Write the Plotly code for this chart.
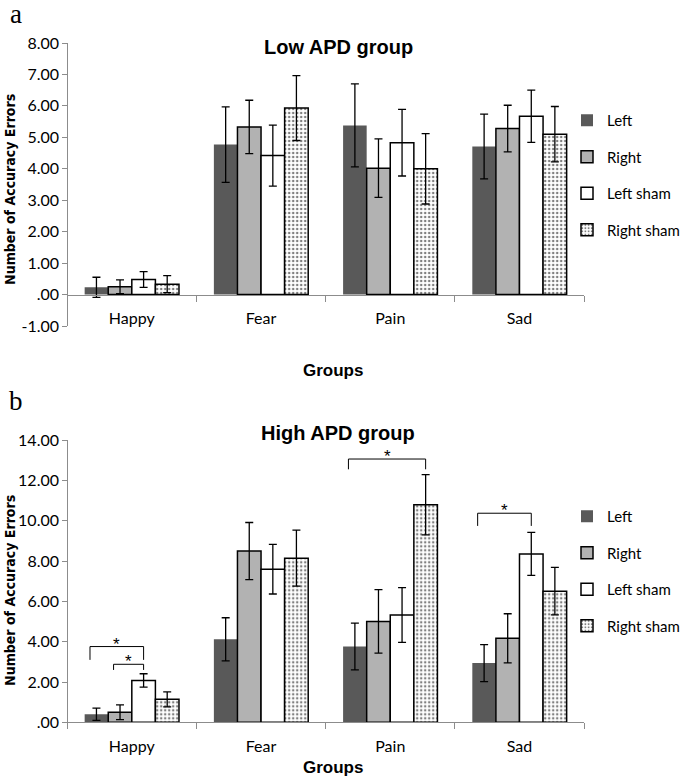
import plotly.graph_objects as go

groups = ['Happy', 'Fear', 'Pain', 'Sad']
conditions = ['Left', 'Right', 'Left sham', 'Right sham']

# panel a - low APD group
low_left = [0.23, 4.77, 5.38, 4.71]
low_left_err = [0.32, 1.20, 1.32, 1.03]
low_right = [0.25, 5.33, 4.02, 5.28]
low_right_err = [0.22, 0.85, 0.93, 0.74]
low_lsham = [0.48, 4.42, 4.83, 5.67]
low_lsham_err = [0.25, 0.97, 1.06, 0.83]
low_rsham = [0.33, 5.93, 4.00, 5.10]
low_rsham_err = [0.27, 1.03, 1.12, 0.88]

# panel b - high APD group
high_left = [0.40, 4.12, 3.76, 2.94]
high_left_err = [0.30, 1.07, 1.16, 0.92]
high_right = [0.50, 8.50, 5.01, 4.17]
high_right_err = [0.37, 1.42, 1.58, 1.22]
high_lsham = [2.08, 7.60, 5.33, 8.36]
high_lsham_err = [0.33, 1.23, 1.36, 1.07]
high_rsham = [1.14, 8.15, 10.80, 6.51]
high_rsham_err = [0.37, 1.39, 1.50, 1.18]

yticks_low = [-1, 0, 1, 2, 3, 4, 5, 6, 7, 8]
yticklabels_low = ['-1.00', '.00', '1.00', '2.00', '3.00', '4.00', '5.00', '6.00', '7.00', '8.00']
yticks_high = [0, 2, 4, 6, 8, 10, 12, 14]
yticklabels_high = ['.00', '2.00', '4.00', '6.00', '8.00', '10.00', '12.00', '14.00']

# significance brackets: group, from bar, to bar, line height, leg bottom
brackets_high = [('Happy', 0, 2, 3.76, 3.10),
                 ('Happy', 1, 2, 2.88, 2.60),
                 ('Pain', 0, 3, 13.07, 12.56),
                 ('Sad', 0, 2, 10.38, 9.75)]

W, H = 685, 776
def px(x):
	return x / W
def py(y):
	return 1 - y / H

colors = ['#595959', '#b2b2b2', 'white', 'white']
line_w = [0, 1.5, 1.5, 1.5]
BARGAP = 0.27

fig = go.Figure()

def add_panel(series, errs, xa, ya, leg):
	for k in range(4):
		marker = dict(color=colors[k], line=dict(color='black', width=line_w[k]))
		if k == 3:
			marker['pattern'] = dict(shape='.', size=4, solidity=0.3, fgcolor='black', bgcolor='white')
		fig.add_trace(go.Bar(
			x=groups, y=series[k], name=conditions[k],
			error_y=dict(type='data', array=errs[k], color='black', thickness=1.3, width=4),
			marker=marker, xaxis=xa, yaxis=ya, legend=leg,
			legendgroup=leg + str(k),
		))

add_panel([low_left, low_right, low_lsham, low_rsham],
          [low_left_err, low_right_err, low_lsham_err, low_rsham_err], 'x', 'y', 'legend')
add_panel([high_left, high_right, high_lsham, high_rsham],
          [high_left_err, high_right_err, high_lsham_err, high_rsham_err], 'x2', 'y2', 'legend2')

xdom = [px(68), px(591)]
ya_dom = [py(326), py(43)]
yb_dom = [py(722.3), py(440.3)]
zero_a = ya_dom[0] + (ya_dom[1] - ya_dom[0]) / 9.0

tickfont = dict(family='Lato, Arial', size=16, color='black')

def xaxis(pos):
	return dict(domain=xdom, anchor='free', position=pos, type='category',
		categoryorder='array', categoryarray=groups, range=[-0.5, 3.5],
		showline=True, linecolor='#8c8c8c', linewidth=1, ticks='outside',
		tickson='boundaries', ticklen=6, tickcolor='#8c8c8c', tickfont=tickfont,
		showgrid=False, zeroline=False, automargin=False, ticklabelstandoff=9)

def yaxis(dom, rng, tv, tt):
	return dict(domain=dom, anchor='free', position=xdom[0], range=rng, tickvals=tv, ticktext=tt,
		showline=True, linecolor='#8c8c8c', linewidth=1, ticks='outside', ticklen=5,
		tickcolor='#8c8c8c', tickfont=tickfont, showgrid=False, zeroline=False,
		automargin=False)

# bar center offsets within a category
bw = (1 - BARGAP) / 4
def bar_x(g, k):
	return groups.index(g) - (1 - BARGAP) / 2 + bw * (k + 0.5)

shapes = []
annotations = []
for g, i, j, top, bot in brackets_high:
	x0 = bar_x(g, i) - 0.05
	x1 = bar_x(g, j)
	ln = dict(color='black', width=1)
	shapes.append(dict(type='line', xref='x2', yref='y2', x0=x0, x1=x1, y0=top, y1=top, line=ln))
	shapes.append(dict(type='line', xref='x2', yref='y2', x0=x0, x1=x0, y0=bot, y1=top, line=ln))
	shapes.append(dict(type='line', xref='x2', yref='y2', x0=x1, x1=x1, y0=bot, y1=top, line=ln))
	annotations.append(dict(text='*', xref='x2', yref='y2', x=(x0 + x1) / 2, y=top,
		yanchor='bottom', showarrow=False, yshift=-9,
		font=dict(family='Arial', size=17, color='black')))

bold = dict(family='Liberation Sans, Arial', size=20, color='black', weight='bold')
narrow = dict(family='DejaVu Sans Condensed, Liberation Sans', size=14, color='black', weight='bold')
serif = dict(family='Liberation Serif, Times New Roman', size=27, color='black')

texts = [
	dict(text='a', x=px(16), y=py(14), font=serif),
	dict(text='b', x=px(16), y=py(401), font=serif),
	dict(text='Low APD group', x=px(342), y=py(47), font=bold),
	dict(text='High APD group', x=px(342), y=py(433), font=bold),
	dict(text='Number of Accuracy Errors', x=px(10), y=py(189), textangle=-90, font=narrow),
	dict(text='Number of Accuracy Errors', x=px(10), y=py(590), textangle=-90, font=narrow),
	dict(text='Groups', x=px(337), y=py(370), font=dict(bold, size=17)),
	dict(text='Groups', x=px(337), y=py(767), font=dict(bold, size=17)),
]
for a in texts:
	a.update(xref='paper', yref='paper', xanchor='center', yanchor='middle', showarrow=False)
annotations += texts

legfont = dict(family='Lato, Arial', size=15, color='black')

fig.update_layout(
	width=W, height=H,
	margin=dict(l=0, r=0, t=0, b=0),
	paper_bgcolor='white', plot_bgcolor='white',
	barmode='group', bargap=BARGAP, bargroupgap=0,
	xaxis=xaxis(zero_a), yaxis=yaxis(ya_dom, [-1, 8], yticks_low, yticklabels_low),
	xaxis2=xaxis(yb_dom[0]), yaxis2=yaxis(yb_dom, [0, 14], yticks_high, yticklabels_high),
	legend=dict(x=px(574), y=py(104), xanchor='left', yanchor='top', traceorder='grouped',
		tracegroupgap=14, font=legfont, bgcolor='rgba(0,0,0,0)'),
	legend2=dict(x=px(574), y=py(500), xanchor='left', yanchor='top', traceorder='grouped',
		tracegroupgap=14, font=legfont, bgcolor='rgba(0,0,0,0)'),
	shapes=shapes,
	annotations=annotations,
)

# the page's default 8px body margin would push the figure off the window
fig.write_html("out.html", config={'displayModeBar': False},
	post_script="document.body.style.margin='0px';")
